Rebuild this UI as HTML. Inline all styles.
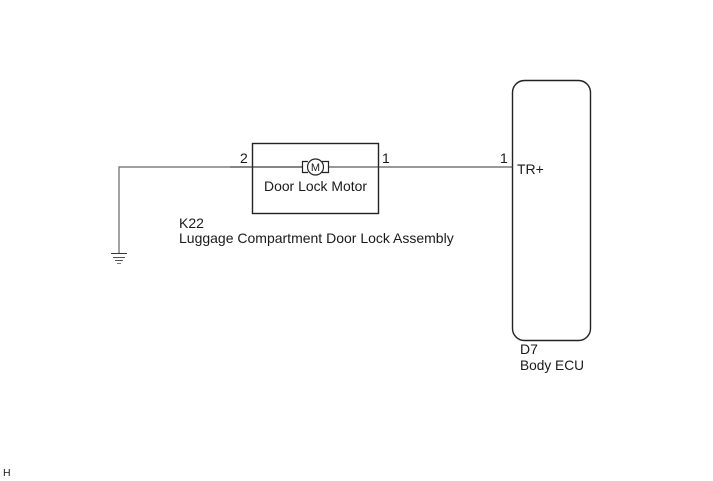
<!DOCTYPE html>
<html>
<head>
<meta charset="utf-8">
<style>
html,body{margin:0;padding:0;background:#fff;}
svg{display:block;}
text{font-family:"Liberation Sans",Arial,sans-serif;font-size:14px;fill:#1a1a1a;}
</style>
</head>
<body>
<svg width="713" height="481" viewBox="0 0 713 481" xmlns="http://www.w3.org/2000/svg">
<rect width="713" height="481" fill="#fff"/>
<!-- wires -->
<path d="M119 253V167H302" fill="none" stroke="#666" stroke-width="1.2"/>
<path d="M329 167H513" fill="none" stroke="#333" stroke-width="1.1"/>
<!-- ground -->
<path d="M111 253.500H127" stroke="#333" stroke-width="1"/>
<path d="M113 257.500H125" stroke="#555" stroke-width="1"/>
<path d="M115 260.500H123" stroke="#555" stroke-width="1"/>
<path d="M117 263.500H121" stroke="#777" stroke-width="1"/>
<!-- assembly box -->
<rect x="252.500" y="143.500" width="126" height="70" fill="none" stroke="#222" stroke-width="1.4"/>
<path d="M230 167H302M329 167H400" stroke="#333" stroke-width="1"/>
<!-- motor -->
<path d="M308 161.500H302.500V172.500H308" fill="none" stroke="#222" stroke-width="1.2"/>
<path d="M322 161.500H328.500V172.500H322" fill="none" stroke="#222" stroke-width="1.2"/>
<circle cx="315.500" cy="167" r="8" fill="#fff" stroke="#222" stroke-width="1.2"/>
<text x="315.500" y="171" text-anchor="middle" style="font-size:11px">M</text>
<text x="315.500" y="191" text-anchor="middle" textLength="103" lengthAdjust="spacingAndGlyphs">Door Lock Motor</text>
<!-- ECU -->
<rect x="512.500" y="80.500" width="78" height="260" rx="12" ry="12" fill="#fff" stroke="#222" stroke-width="1.4"/>
<path d="M490 167H513" stroke="#333" stroke-width="1"/>
<!-- labels -->
<text x="240" y="163">2</text>
<text x="382" y="163">1</text>
<text x="500" y="163">1</text>
<text x="517" y="174">TR+</text>
<text x="179" y="228">K22</text>
<text x="179" y="243">Luggage Compartment Door Lock Assembly</text>
<text x="520" y="354">D7</text>
<text x="520" y="370" textLength="64" lengthAdjust="spacingAndGlyphs">Body ECU</text>
<text x="3" y="476" style="font-size:10.500px">H</text>
</svg>
</body>
</html>
